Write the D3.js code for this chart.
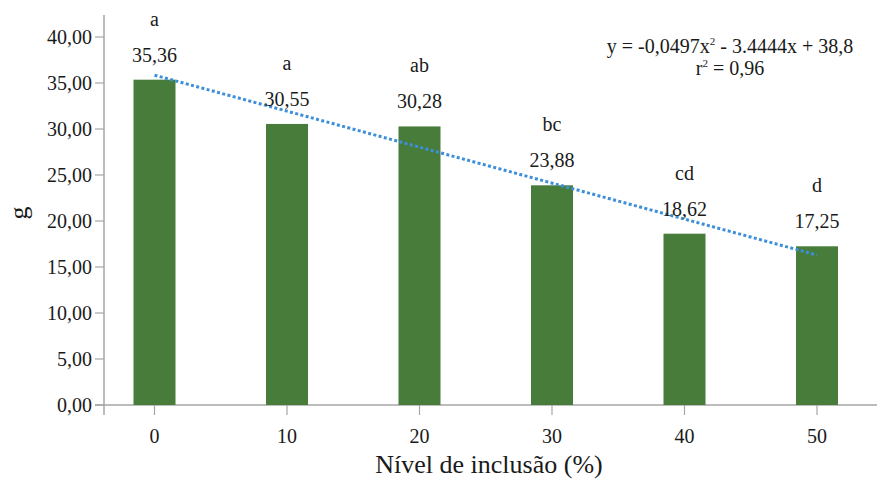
<!doctype html>
<html>
<head>
<meta charset="utf-8">
<script src="https://cdn.jsdelivr.net/npm/d3@7"></script>
</head>
<body style="margin:0">
<svg width="877" height="481"></svg>
<script>
var levels = ["0", "10", "20", "30", "40", "50"];
var values = [35.36, 30.55, 30.28, 23.88, 18.62, 17.25];
var letters = ["a", "a", "ab", "bc", "cd", "d"];
var yTicks = [0, 5, 10, 15, 20, 25, 30, 35, 40];
// trend line end points
var trendX = ["0", "50"];
var trendY = [35.85, 16.3];

var svg = d3.select("svg");
var fmt = function(v) { return v.toFixed(2).replace(".", ","); };

var x = d3.scalePoint().domain(levels).range([154.5, 817]);
var y = d3.scaleLinear().domain([0, 40]).range([405, 37]);
var barW = 42;
var axisCol = "#a6a6a6";

function label(sel, size) {
    return sel.attr("font-size", size)
        .style("font-family", "'Liberation Serif', serif")
        .style("fill", "#1a1a1a");
}

// axis lines
svg.append("line").attr("x1", 104).attr("x2", 104).attr("y1", 15).attr("y2", 415)
    .attr("stroke", axisCol).attr("stroke-width", 1.5);
svg.append("line").attr("x1", 95).attr("x2", 877).attr("y1", 405).attr("y2", 405)
    .attr("stroke", axisCol).attr("stroke-width", 1.5);

svg.selectAll(".yt").data(yTicks).enter().append("line")
    .attr("x1", 95).attr("x2", 104)
    .attr("y1", function(d) { return y(d); }).attr("y2", function(d) { return y(d); })
    .attr("stroke", axisCol).attr("stroke-width", 1.2);
label(svg.selectAll(".yl").data(yTicks).enter().append("text")
    .attr("x", 92).attr("y", function(d) { return y(d); })
    .attr("dy", "0.35em").attr("text-anchor", "end"), 20)
    .text(fmt);

// bars
svg.selectAll(".bar").data(values).enter().append("rect")
    .attr("x", function(d, i) { return x(levels[i]) - barW / 2; })
    .attr("y", function(d) { return y(d); })
    .attr("width", barW)
    .attr("height", function(d) { return y(0) - y(d); })
    .attr("fill", "#487c3a");

// x ticks
svg.selectAll(".xt").data(levels).enter().append("line")
    .attr("x1", function(d) { return x(d); }).attr("x2", function(d) { return x(d); })
    .attr("y1", 405).attr("y2", 415)
    .attr("stroke", axisCol).attr("stroke-width", 1.2);
label(svg.selectAll(".xl").data(levels).enter().append("text")
    .attr("x", function(d) { return x(d); }).attr("y", 443)
    .attr("text-anchor", "middle"), 20)
    .text(function(d) { return d; });

// trend line
var tline = d3.line()
    .x(function(d) { return x(d[0]); })
    .y(function(d) { return y(d[1]); });
svg.append("path")
    .attr("d", tline(d3.zip(trendX, trendY)))
    .attr("fill", "none").attr("stroke", "#3d8fd9")
    .attr("stroke-width", 3).attr("stroke-dasharray", "3,2.4");

// value labels and letters
label(svg.selectAll(".vl").data(values).enter().append("text")
    .attr("x", function(d, i) { return x(levels[i]); })
    .attr("y", function(d) { return y(d) - 18; })
    .attr("text-anchor", "middle"), 20)
    .text(fmt);
label(svg.selectAll(".lt").data(letters).enter().append("text")
    .attr("x", function(d, i) { return x(levels[i]); })
    .attr("y", function(d, i) { return y(values[i]) - 54; })
    .attr("text-anchor", "middle"), 20)
    .text(function(d) { return d; });

// equation
var eq = label(svg.append("text").attr("x", 730).attr("y", 53)
    .attr("text-anchor", "middle"), 20);
eq.append("tspan").text("y = -0,0497x");
eq.append("tspan").attr("dy", -8).attr("font-size", 11).text("2");
eq.append("tspan").attr("dy", 8).text(" - 3.4444x + 38,8");
var r2 = label(svg.append("text").attr("x", 730).attr("y", 75)
    .attr("text-anchor", "middle"), 20);
r2.append("tspan").text("r");
r2.append("tspan").attr("dy", -8).attr("font-size", 11).text("2");
r2.append("tspan").attr("dy", 8).text(" = 0,96");

// axis titles
label(svg.append("text").attr("x", 489).attr("y", 473)
    .attr("text-anchor", "middle"), 26)
    .text("Nível de inclusão (%)");
label(svg.append("text")
    .attr("transform", "translate(27,213) rotate(-90)")
    .attr("text-anchor", "middle"), 26)
    .text("g");
</script>
</body>
</html>
